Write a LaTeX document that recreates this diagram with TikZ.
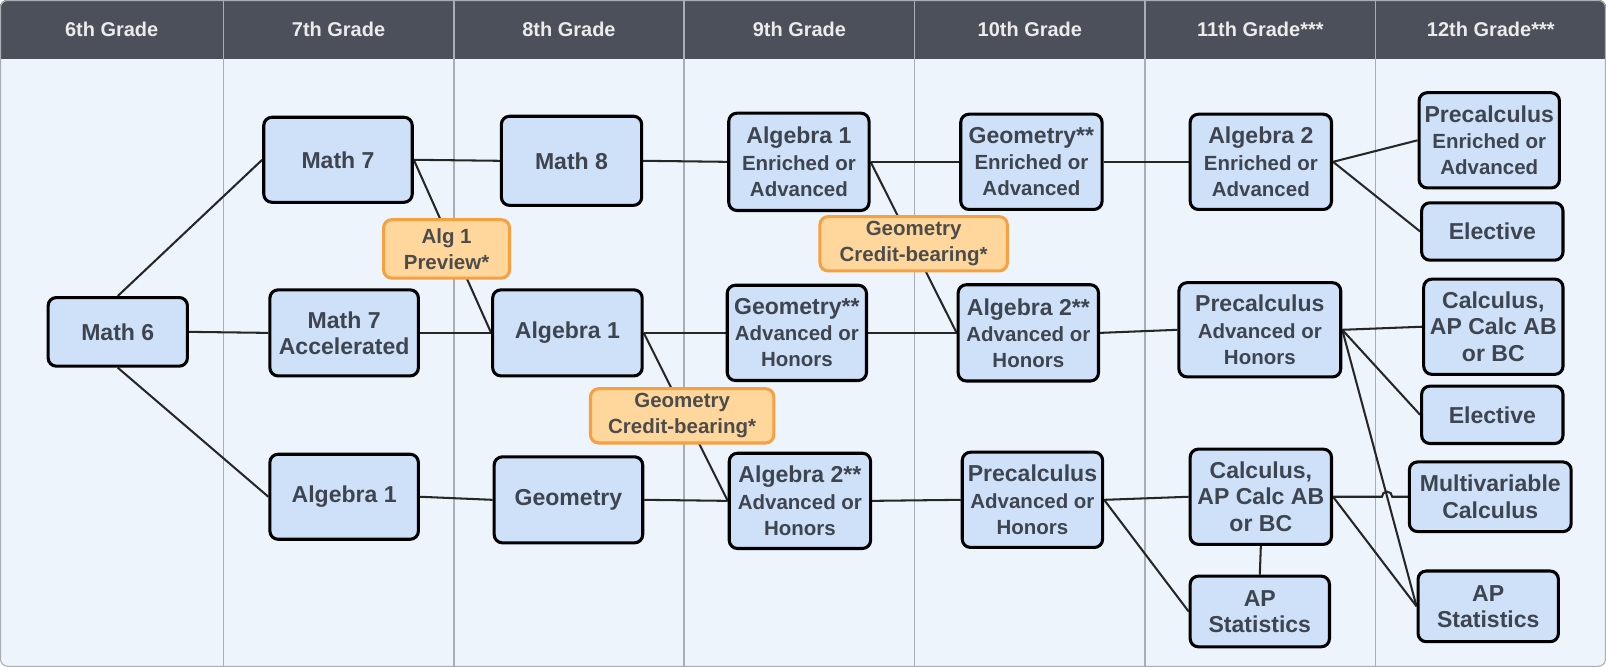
\documentclass[tikz,border=0pt]{standalone}
\usepackage{fontspec}
\setmainfont{Liberation Sans}
\usetikzlibrary{calc}
\definecolor{headgray}{HTML}{4B505A}
\definecolor{pagebg}{HTML}{EDF4FC}
\definecolor{colgray}{HTML}{A9AEB5}
\definecolor{boxblue}{HTML}{CEE1F8}
\definecolor{boxtext}{HTML}{3E4550}
\definecolor{optfill}{HTML}{FFD79C}
\definecolor{optline}{HTML}{F5A142}
\newcommand{\subsize}{\fontsize{20}{25.5}\selectfont}
\pgfdeclarelayer{grid}
\pgfdeclarelayer{wires}
\pgfsetlayers{grid,wires,main}

\begin{document}
\begin{tikzpicture}[x=1pt, y=-1pt,
    course/.style={draw=black, line width=3pt, fill=boxblue, rounded corners=8pt,
      text=boxtext, font=\bfseries\fontsize{22.5}{25.5}\selectfont, align=center,
      inner sep=0pt, minimum width=137pt, minimum height=93pt},
    option/.style={course, draw=optline, fill=optfill, text=black!70,
      font=\bfseries\subsize, minimum height=53pt},
    wire/.style={line width=2pt, black!85},
    headtext/.style={text=white!92!black, font=\bfseries\fontsize{19.5}{24}\selectfont}]
    \useasboundingbox (0,0) rectangle (1568,651);
    \begin{pgfonlayer}{grid}
    \begin{scope}
        \clip[rounded corners=7pt] (0,0) rectangle (1568,651);
        \fill[pagebg] (0,0) rectangle (1568,651);
        \fill[headgray] (0,0) rectangle (1568,58);
        \foreach \x in {0,...,5}
            \draw[colgray, line width=1.5pt] (218+\x*225,0) -- (218+\x*225,651);
    \end{scope}
    \draw[colgray, line width=1pt, rounded corners=7pt] (0.5,0.5) rectangle (1567.5,650.5);
    \end{pgfonlayer}
    \node[headtext] (head1) at (109,29) {6th Grade};
    \foreach \g [count=\i from 2] in {7th Grade, 8th Grade, 9th Grade,
        10th Grade, 11th Grade***, 12th Grade***}
        \node[headtext] (head\i) at ({330.5+(\i-2)*225}, 29) {\g};

    \node[course, minimum width=136pt, minimum height=67pt] (math6) at (115,324) {Math 6};
    \node[course, minimum width=145pt, minimum height=83pt] (math7) at (330,156) {Math 7};
    \node[course, minimum width=145pt, minimum height=84pt] (math7acc) at (336,325) {Math 7\\Accelerated};
    \node[course, minimum width=145pt, minimum height=83pt] (alg1sev) at (336,485) {Algebra 1};
    \node[option, minimum width=123pt, minimum height=57pt] (preview) at (436,243) {Alg 1\\Preview*};
    \node[course, minimum height=87pt] (math8) at (558,157) {Math 8};
    \node[course, minimum width=146pt, minimum height=84pt] (alg1eig) at (554,325) {Algebra 1};
    \node[course, minimum width=145pt, minimum height=84pt] (geoeig) at (555,488) {Geometry};
    \node[option, minimum width=179pt] (credit1) at (666,406) {Geometry\\Credit-bearing*};
    \node[course, minimum height=95pt] (alg1nin) at (780,158) {Algebra 1\\\subsize Enriched or\\\subsize Advanced};
    \node[course, minimum width=136pt] (geonin) at (778,325) {Geometry**\\\subsize Advanced or\\\subsize Honors};
    \node[course, minimum width=138pt] (alg2nin) at (781,489) {Algebra 2**\\\subsize Advanced or\\\subsize Honors};
    \node[option, minimum width=183pt] (credit2) at (892,238) {Geometry\\Credit-bearing*};
    \node[course, minimum width=138pt] (geoten) at (1007,158) {Geometry**\\\subsize Enriched or\\\subsize Advanced};
    \node[course, minimum height=94pt] (alg2ten) at (1004,325) {Algebra 2**\\\subsize Advanced or\\\subsize Honors};
    \node[course] (preten) at (1008,488) {Precalculus\\\subsize Advanced or\\\subsize Honors};
    \node[course, minimum width=138pt] (alg2ele) at (1231,158) {Algebra 2\\\subsize Enriched or\\\subsize Advanced};
    \node[course, minimum width=158pt, minimum height=92pt] (preele) at (1230,322) {Precalculus\\\subsize Advanced or\\\subsize Honors};
    \node[course, minimum width=138pt] (calcele) at (1231,485) {Calculus,\\AP Calc AB\\or BC};
    \node[course, minimum width=136pt, minimum height=69pt] (statele) at (1230,597) {AP\\Statistics};
    \node[course] (pretwe) at (1454,137) {Precalculus\\\subsize Enriched or\\\subsize Advanced};
    \node[course, minimum width=138pt, minimum height=56pt] (electa) at (1457,226) {Elective};
    \node[course, minimum width=136pt] (calctwe) at (1458,319) {Calculus,\\AP Calc AB\\or BC};
    \node[course, minimum width=138pt, minimum height=56pt] (electb) at (1457,405) {Elective};
    \node[course, minimum width=158pt, minimum height=68pt] (multi) at (1455,485) {Multivariable\\Calculus};
    \node[course, minimum height=69pt] (stattwe) at (1453,592) {AP\\Statistics};

    \coordinate (hop) at (intersection of preele.east--stattwe.west and calcele.east--multi.west);
    \begin{pgfonlayer}{wires}
    \draw[wire] (math6.north) -- (math7.west);
    \draw[wire] (math6.east) -- (math7acc.west);
    \draw[wire] (math6.south) -- (alg1sev.west);
    \draw[wire] (math7.east) -- (math8.west);
    \draw[wire] (math7.east) -- (alg1eig.west);
    \draw[wire] (math7acc.east) -- (alg1eig.west);
    \draw[wire] (alg1sev.east) -- (geoeig.west);
    \draw[wire] (math8.east) -- (alg1nin.west);
    \draw[wire] (alg1eig.east) -- (geonin.west);
    \draw[wire] (alg1eig.east) -- (alg2nin.west);
    \draw[wire] (geoeig.east) -- (alg2nin.west);
    \draw[wire] (alg1nin.east) -- (geoten.west);
    \draw[wire] (alg1nin.east) -- (alg2ten.west);
    \draw[wire] (geonin.east) -- (alg2ten.west);
    \draw[wire] (alg2nin.east) -- (preten.west);
    \draw[wire] (geoten.east) -- (alg2ele.west);
    \draw[wire] (alg2ten.east) -- (preele.west);
    \draw[wire] (preten.east) -- (calcele.west);
    \draw[wire] (preten.east) -- (statele.west);
    \draw[wire] (calcele.south) -- (statele.north);
    \draw[wire] (alg2ele.east) -- (pretwe.west);
    \draw[wire] (alg2ele.east) -- (electa.west);
    \draw[wire] (preele.east) -- (calctwe.west);
    \draw[wire] (preele.east) -- (electb.west);
    \draw[wire] (preele.east) -- (stattwe.west);
    \draw[wire] (calcele.east) -- ($(hop)+(-5,0)$) arc (180:0:5pt) -- (multi.west);
    \draw[wire] (calcele.east) -- (stattwe.west);
    \end{pgfonlayer}
\end{tikzpicture}
\end{document}
